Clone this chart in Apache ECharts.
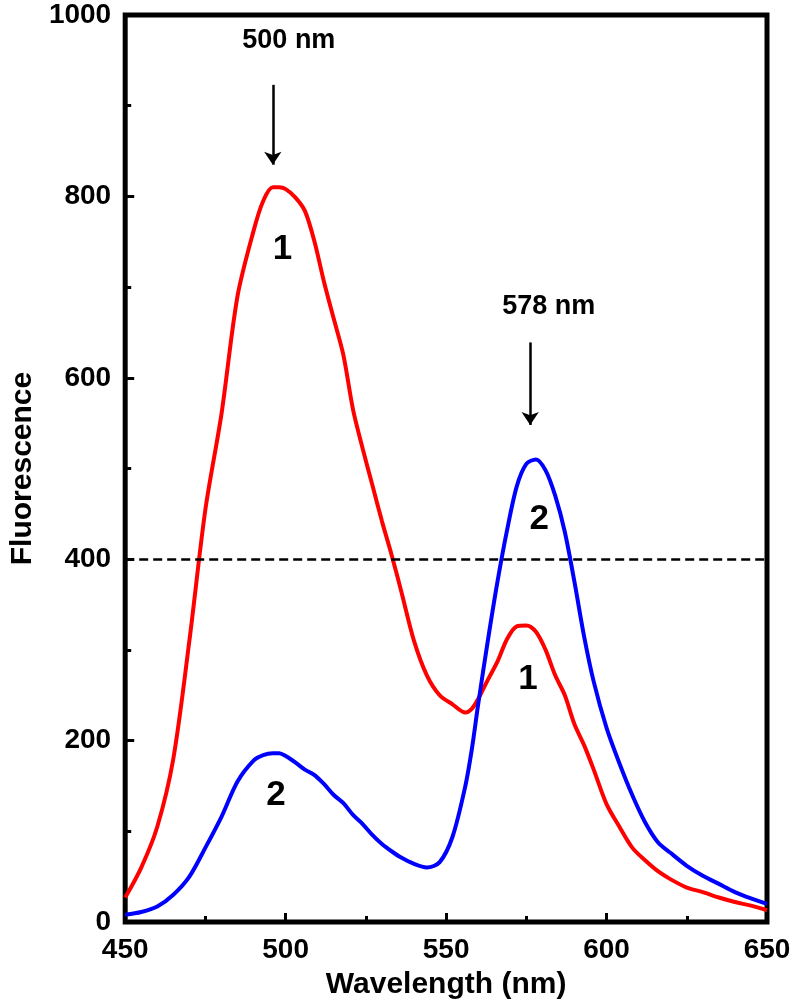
<!DOCTYPE html>
<html>
<head>
<meta charset="utf-8">
<script src="https://cdn.jsdelivr.net/npm/echarts@6/dist/echarts.min.js"></script>
<style>
html,body{margin:0;padding:0;background:#fff;}
#chart{width:794px;height:1007px;}
</style>
</head>
<body>
<div id="chart"></div>
<script>
// Wavelength grid (nm)
const wavelength = [450,455,460,465,470,475,480,485,490,493,496,498,500,503,506,509,512,515,518,521,524,527,530,533,536,540,544,548,552,556,558,560,563,566,569,572,575,578,581,584,587,590,593,596,600,604,608,612,616,620,625,630,635,640,645,650];
// Curve 1 (red)
const curve1 = [27,60,105,180,310,455,560,690,762,795,810,810,808,799,784,750,705,665,625,565,522,482,442,405,365,310,272,250,240,231,235,246,267,287,312,326,327,320,300,272,250,218,195,168,130,105,82,68,56,47,38,33,27,22,18,13];
// Curve 2 (blue)
const curve2 = [8,11,17,30,50,82,116,155,178,184,186,186,183,176,168,162,152,140,131,118,108,96,86,78,71,64,60,66,94,150,190,240,310,375,432,480,505,510,498,470,430,375,315,265,214,175,140,110,88,76,62,51,42,33,26,20];
// Axis ticks
const xTicks = {min: 450, max: 650, interval: 50};
const yTicks = {min: 0, max: 1000, interval: 200};
const referenceLevel = 400;
// Annotation texts [x(nm), y(value), text]
const annoText = [[501, 972, '500 nm'], [582, 679, '578 nm']];
const curveLabels = [[499, 742, '1'], [497, 140, '2'], [579, 444, '2'], [575.5, 267, '1']];
// Arrows: [x, yFrom, yTo]
const arrows = [[496, 923, 835], [576.2, 639, 548]];

const FONT = '"Liberation Sans", Arial, sans-serif';
const chart = echarts.init(document.getElementById('chart'), null, {renderer: 'canvas'});

const pairs = (ys) => wavelength.map((x, i) => [x, ys[i]]);
const tickLabel = {fontFamily: FONT, fontWeight: 'bold', fontSize: 28, color: '#000', margin: 14, formatter: v => String(v)};
const textLabel = (txt, size) => ({
  show: true, position: 'inside', formatter: txt, fontSize: size,
  fontFamily: FONT, fontWeight: 'bold', color: '#000000', opacity: 1, textBorderWidth: 0
});

chart.setOption({
  animation: false,
  backgroundColor: '#ffffff',
  grid: {left: 103, right: 27, top: 15, bottom: 85, show: true, borderColor: '#000', borderWidth: 5, backgroundColor: 'transparent'},
  xAxis: {
    type: 'value', min: xTicks.min, max: xTicks.max, interval: xTicks.interval,
    name: 'Wavelength (nm)', nameLocation: 'middle', nameGap: 48,
    nameTextStyle: {fontFamily: FONT, fontWeight: 'bold', fontSize: 30, color: '#000'},
    axisLine: {show: false},
    axisTick: {show: true, inside: true, length: 9, lineStyle: {color: '#000', width: 3}},
    minorTick: {show: true, splitNumber: 2, length: 6, lineStyle: {color: '#000', width: 3}},
    splitLine: {show: false},
    axisLabel: tickLabel
  },
  yAxis: {
    type: 'value', min: yTicks.min, max: yTicks.max, interval: yTicks.interval,
    name: 'Fluorescence', nameLocation: 'middle', nameGap: 76,
    nameTextStyle: {fontFamily: FONT, fontWeight: 'bold', fontSize: 30, color: '#000'},
    axisLine: {show: false},
    axisTick: {show: true, inside: true, length: 9, lineStyle: {color: '#000', width: 3}},
    minorTick: {show: true, splitNumber: 2, length: 6, lineStyle: {color: '#000', width: 3}},
    splitLine: {show: false},
    axisLabel: tickLabel
  },
  series: [
    {
      type: 'line', name: '1', data: pairs(curve1), smooth: 0.3, showSymbol: false,
      lineStyle: {color: '#ff0000', width: 4}, z: 3,
      markLine: {
        silent: true, symbol: ['none', 'none'], label: {show: false},
        lineStyle: {color: '#000', width: 2.5, type: [9, 5]},
        data: [{yAxis: referenceLevel}]
      }
    },
    {
      type: 'line', name: '2', data: pairs(curve2), smooth: 0.3, showSymbol: false,
      lineStyle: {color: '#0000ff', width: 4}, z: 4
    },
    {
      type: 'line', name: 'arrows', data: [], z: 5, color: '#000',
      markLine: {
        silent: true, symbol: ['none', 'arrow'], symbolSize: 13, label: {show: false},
        itemStyle: {color: '#000', opacity: 1},
        lineStyle: {color: '#000', width: 2.5, type: 'solid', opacity: 1},
        emphasis: {disabled: true},
        data: arrows.map(a => [{coord: [a[0], a[1]]}, {coord: [a[0], a[2]]}])
      }
    },
    {
      type: 'scatter', name: 'annotations', z: 6, symbol: 'circle', symbolSize: 1,
      itemStyle: {color: '#ffffff', opacity: 1},
      emphasis: {disabled: true},
      data: annoText.map(a => ({value: [a[0], a[1]], label: textLabel(a[2], 27)}))
        .concat(curveLabels.map(a => ({value: [a[0], a[1]], label: textLabel(a[2], 35)})))
    }
  ]
});
</script>
</body>
</html>
